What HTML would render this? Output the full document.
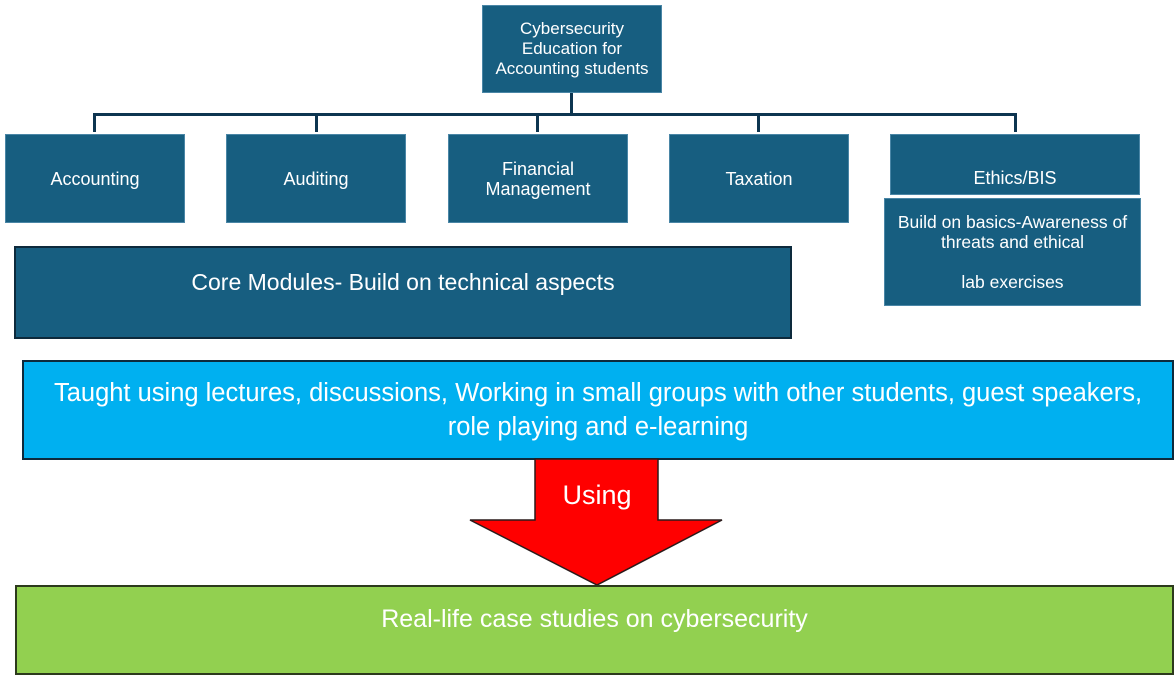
<!DOCTYPE html>
<html><head><style>
body{margin:0;width:1176px;height:680px;background:#fff;position:relative;overflow:hidden;font-family:"Liberation Sans",sans-serif}
.b{position:absolute;background:#175e80;color:#fff;display:flex;align-items:center;justify-content:center;text-align:center;box-sizing:border-box;border:1px solid #4a86a6;font-size:18px;line-height:20px;white-space:nowrap}
.l{position:absolute;background:#0d3550}
</style></head><body>
<div class="b" style="left:482px;top:5px;width:180px;height:88px;font-size:17px">Cybersecurity<br>Education for<br>Accounting students</div>
<div class="l" style="left:570px;top:93px;width:3px;height:22px"></div>
<div class="l" style="left:93px;top:113px;width:924px;height:3px"></div>
<div class="l" style="left:93px;top:113px;width:3px;height:19px"></div>
<div class="l" style="left:315px;top:113px;width:3px;height:19px"></div>
<div class="l" style="left:536px;top:113px;width:3px;height:19px"></div>
<div class="l" style="left:757px;top:113px;width:3px;height:19px"></div>
<div class="l" style="left:1014px;top:113px;width:3px;height:19px"></div>
<div class="b" style="left:5px;top:134px;width:180px;height:89px">Accounting</div>
<div class="b" style="left:226px;top:134px;width:180px;height:89px">Auditing</div>
<div class="b" style="left:448px;top:134px;width:180px;height:89px">Financial<br>Management</div>
<div class="b" style="left:669px;top:134px;width:180px;height:89px">Taxation</div>
<div class="b" style="left:890px;top:134px;width:250px;height:61px;padding-top:26px">Ethics/BIS</div>
<div class="b" style="left:884px;top:198px;width:257px;height:108px;align-items:flex-start;padding-top:13px;font-size:17.5px">Build on basics-Awareness of<br>threats and ethical<br><br>lab exercises</div>
<div class="b" style="left:14px;top:246px;width:778px;height:93px;border:2px solid #0d2a3c;font-size:23px;padding-bottom:22px">Core Modules- Build on technical aspects</div>
<div class="b" style="left:22px;top:360px;width:1152px;height:100px;background:#00b0f0;border:2px solid #0d2a3c;font-size:25.5px;line-height:34px">Taught using lectures, discussions, Working in small groups with other students, guest speakers,<br>role playing and e-learning</div>
<svg style="position:absolute;left:0;top:0" width="1176" height="680"><polygon points="535,459 658,459 658,520 722,520 597,585 470,520 535,520" fill="#ff0000" stroke="#2a1a1a" stroke-width="1.5"/><text x="597" y="504" fill="#fff" font-size="27" text-anchor="middle" font-family="Liberation Sans,sans-serif">Using</text></svg>
<div class="b" style="left:15px;top:585px;width:1159px;height:90px;background:#92d050;border:2px solid #2c3a1c;font-size:25px;padding-bottom:22px">Real-life case studies on cybersecurity</div>
</body></html>
